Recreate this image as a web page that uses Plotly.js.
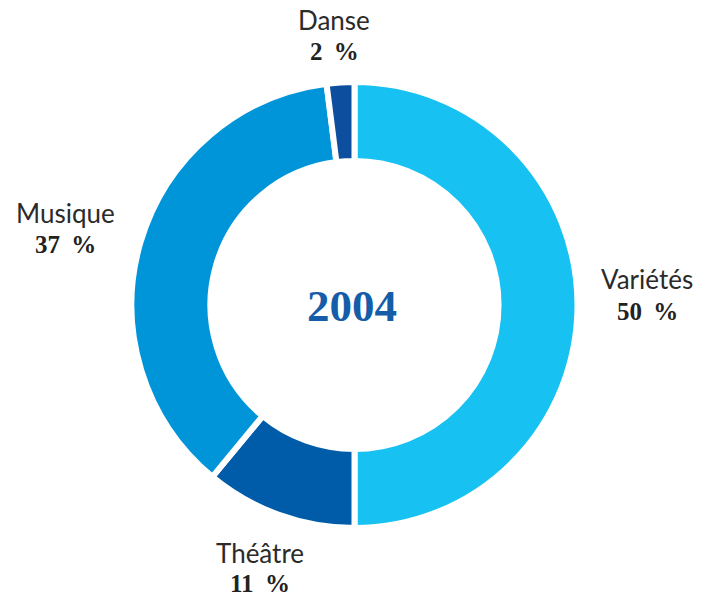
<!DOCTYPE html>
<html>
<head>
<meta charset="utf-8">
<script src="https://cdn.plot.ly/plotly-3.0.1.min.js"></script>
<style>
  html, body { margin: 0; padding: 0; background: #fff; }
  #chart { width: 708px; height: 599px; }
</style>
</head>
<body>
<div id="chart"></div>
<script>
const categories = ['Variétés', 'Théâtre', 'Musique', 'Danse'];
const shares = [50, 11, 37, 2];
const colors = ['#17C1F1', '#005CA9', '#0095D9', '#0D4F9E'];
const centerLabel = '2004';

// label spots in pixels (center x, name y, value y), same order as categories
const labelPos = [
	[647, 279, 311],
	[260, 553, 583],
	[65, 213, 245],
	[334, 20, 52],
];

const W = 708, H = 599;

var trace = {
	type: 'pie',
	values: shares,
	labels: categories,
	sort: false,
	direction: 'clockwise',
	rotation: 0,
	hole: 0.646,
	textinfo: 'none',
	hoverinfo: 'none',
	marker: {
		colors: colors,
		line: { color: '#ffffff', width: 6 },
	},
	domain: {
		x: [131.5 / W, 577.5 / W],
		y: [1 - 528 / H, 1 - 82 / H],
	},
};

var annotations = [];
categories.forEach(function (name, i) {
	var p = labelPos[i];
	annotations.push({
		text: name,
		xref: 'paper', yref: 'paper',
		x: p[0] / W, y: 1 - p[1] / H,
		xanchor: 'center', yanchor: 'middle',
		showarrow: false,
		font: { family: 'Lato, sans-serif', size: 26, color: '#2b2b2b' },
	});
	annotations.push({
		text: '<b>' + shares[i] + '\u2009 %</b>',
		xref: 'paper', yref: 'paper',
		x: p[0] / W, y: 1 - p[2] / H,
		xanchor: 'center', yanchor: 'middle',
		showarrow: false,
		font: { family: '"Liberation Serif", serif', size: 25, color: '#222222' },
	});
});

annotations.push({
	text: '<b>' + centerLabel + '</b>',
	xref: 'paper', yref: 'paper',
	x: 352 / W, y: 1 - 306 / H,
	xanchor: 'center', yanchor: 'middle',
	showarrow: false,
	font: { family: '"Liberation Serif", serif', size: 45, color: '#155DA8' },
});

var layout = {
	width: W,
	height: H,
	margin: { l: 0, r: 0, t: 0, b: 0 },
	showlegend: false,
	paper_bgcolor: '#ffffff',
	annotations: annotations,
};

Plotly.newPlot('chart', [trace], layout, { displayModeBar: false, staticPlot: true });
</script>
</body>
</html>
